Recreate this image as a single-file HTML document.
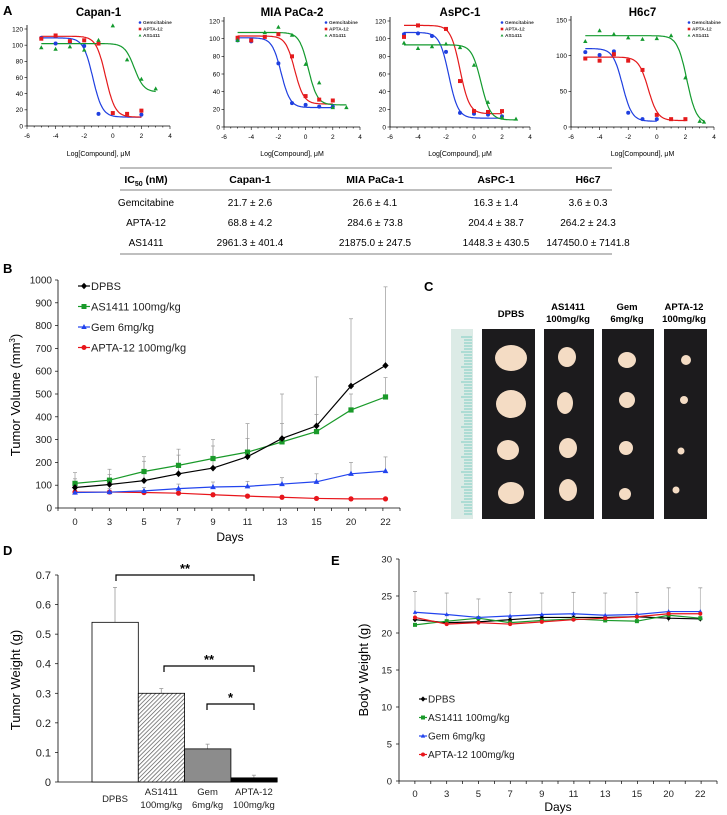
<!DOCTYPE html>
<html><head><meta charset="utf-8"><style>
body{margin:0;background:#fff;}
svg{display:block;font-family:"Liberation Sans",sans-serif;}
</style></head><body>
<svg id="fig" width="727" height="815" viewBox="0 0 727 815">
<defs>
<pattern id="hatch" width="3" height="3" patternUnits="userSpaceOnUse" patternTransform="rotate(45)">
<rect width="3" height="3" fill="#fff"/><line x1="0" y1="0" x2="0" y2="3" stroke="#555" stroke-width="1.4"/>
</pattern>
</defs>
</svg>
<script>
// ---------- Panel A data ----------
const aXticks=[-6,-4,-2,0,2,4];
const capanGem=[[-5,109],[-4,102],[-3,104],[-2,99],[-1,15],[2,14]];
const capanApta=[[-5,108],[-4,112],[-3,105],[-2,106],[-1,102],[0,16],[1,15],[2,19]];
const capanAs=[[-5,97],[-4,95],[-3,98],[-2,94],[-1,106],[0,124],[1,82],[2,58],[3,46]];
const capanFit=[[109,11,-1.4],[111,11,-0.5],[102,42,1.5]];
const miaGem=[[-5,98],[-4,97],[-2,72],[-1,27],[0,25],[1,23],[2,23]];
const miaApta=[[-5,101],[-4,98],[-3,102],[-2,105],[-1,80],[0,35],[1,31],[2,30]];
const miaAs=[[-5,98],[-3,107],[-2,113],[-1,104],[0,71],[1,50],[2,22],[3,22]];
const miaFit=[[101,22,-1.8],[103,26,-0.8],[107,25,0.2]];
const aspcGem=[[-5,105],[-4,106],[-3,103],[-2,85],[-1,16],[0,15],[1,14],[2,12]];
const aspcApta=[[-5,102],[-4,115],[-2,111],[-1,52],[0,18],[1,17],[2,18]];
const aspcAs=[[-5,95],[-4,89],[-3,91],[-2,94],[-1,90],[0,70],[1,28],[2,11],[3,9]];
const aspcFit=[[107,10,-1.8],[115,15,-1.0],[93,8,0.5]];
const h6Gem=[[-5,105],[-4,101],[-3,106],[-2,20],[-1,11],[0,11]];
const h6Apta=[[-5,96],[-4,93],[-3,102],[-2,93],[-1,80],[0,17],[1,11],[2,11]];
const h6As=[[-5,120],[-4,135],[-3,130],[-2,125],[-1,123],[0,124],[1,128],[2,69],[3,8],[3.3,7]];
const h6Fit=[[110,8,-2.4],[98,9,-0.6],[128,5,2.1]];
// ---------- Panel B data ----------
const days=['0','3','5','7','9','11','13','15','20','22'];
const bTicks=[0,100,200,300,400,500,600,700,800,900,1000];
const bDPBS=[90,103,120,150,175,225,305,360,535,625];
const bDPBSsd=[65,67,105,108,125,145,195,215,295,345];
const bAS=[108,122,160,187,217,245,290,335,430,487];
const bASsd=[20,25,45,45,55,60,80,75,70,85];
const bGem=[68,70,75,85,92,95,105,115,150,162];
const bGemsd=[15,15,15,20,22,22,28,35,50,62];
const bApta=[70,70,68,65,58,52,47,42,40,40];
const bAptasd=[8,8,8,8,8,8,8,6,5,5];
// ---------- Panel D data ----------
const dGroups=['DPBS','AS1411','Gem','APTA-12'];
const dDose=['','100mg/kg','6mg/kg','100mg/kg'];
const dMean=[0.54,0.30,0.112,0.014];
const dSd=[0.118,0.016,0.016,0.009];
const dTicks=[0,0.1,0.2,0.3,0.4,0.5,0.6,0.7];
// ---------- Panel E data ----------
const eTicks=[0,5,10,15,20,25,30];
const eDPBS=[21.8,21.4,21.5,21.8,22.1,22.1,22.1,22.2,22.0,21.9];
const eAS=[21.1,21.6,22.0,21.4,21.7,21.9,21.7,21.6,22.4,22.0];
const eGem=[22.8,22.5,22.1,22.3,22.5,22.6,22.4,22.5,22.9,22.9];
const eApta=[22.1,21.2,21.4,21.2,21.5,21.8,22.0,22.2,22.6,22.6];
const eTop=[25.6,25.4,24.6,25.5,25.4,25.5,25.4,25.5,26.1,26.1];

const svg=document.getElementById('fig');
const NS='http://www.w3.org/2000/svg';
function mk(tag,attrs,parent,name,txt){
  const e=document.createElementNS(NS,tag);
  for(const k in attrs)e.setAttribute(k,attrs[k]);
  
  
  if(txt!==undefined)e.textContent=txt;
  (parent||svg).appendChild(e);return e;
}
function lin(d0,d1,r0,r1){return v=>r0+(v-d0)*(r1-r0)/(d1-d0);}
const BLUE='#1f3fe0',RED='#e41a1c',GREEN='#139a2e';
function marker(g,type,x,y,c,s,name){
  if(type==='circle')mk('circle',{cx:x,cy:y,r:s,fill:c},g,name);
  else if(type==='square')mk('rect',{x:x-s,y:y-s,width:2*s,height:2*s,fill:c},g,name);
  else if(type==='tri')mk('polygon',{points:`${x},${y-s*1.2} ${x-s*1.1},${y+s*0.8} ${x+s*1.1},${y+s*0.8}`,fill:c},g,name);
  else if(type==='diamond')mk('polygon',{points:`${x},${y-s*1.3} ${x+s*1.2},${y} ${x},${y+s*1.3} ${x-s*1.2},${y}`,fill:c},g,name);
}
mk('text',{x:3,y:15,'font-size':13,'font-weight':'bold'},svg,'panel-a-label','A');

// ---------- Panel A ----------
const charts=[
 {title:'Capan-1',x0:27,x1:170,y0:126,yt:29,ymax:120,yt2:[0,20,40,60,80,100,120],data:[capanGem,capanApta,capanAs],fit:capanFit,lx:140},
 {title:'MIA PaCa-2',x0:224,x1:360,y0:127,yt:21,ymax:120,yt2:[0,20,40,60,80,100,120],data:[miaGem,miaApta,miaAs],fit:miaFit,lx:326},
 {title:'AsPC-1',x0:390,x1:530,y0:127,yt:21,ymax:120,yt2:[0,20,40,60,80,100,120],data:[aspcGem,aspcApta,aspcAs],fit:aspcFit,lx:502},
 {title:'H6c7',x0:571,x1:714,y0:127,yt:20,ymax:150,yt2:[0,50,100,150],data:[h6Gem,h6Apta,h6As],fit:h6Fit,lx:689}
];
const cols=[BLUE,RED,GREEN],types=['circle','square','tri'],names=['Gemcitabine','APTA-12','AS1411'];
charts.forEach((c,ci)=>{
  const g=mk('g',{},svg,'ic50-chart-'+c.title.toLowerCase().replace(/\s+/g,'-'));
  const X=lin(-6,4,c.x0,c.x1),Y=lin(0,c.ymax,c.y0,c.yt);
  mk('text',{x:(c.x0+c.x1)/2,y:16,'font-size':11.5,'font-weight':'bold','text-anchor':'middle'},g,'chart-title',c.title);
  mk('line',{x1:c.x0,y1:c.y0,x2:c.x1,y2:c.y0,stroke:'#000','stroke-width':0.8},g,'x-axis');
  mk('line',{x1:c.x0,y1:c.y0,x2:c.x0,y2:c.yt-4,stroke:'#000','stroke-width':0.8},g,'y-axis');
  for(let v=-6;v<=4;v+=0.5){mk('line',{x1:X(v),y1:c.y0,x2:X(v),y2:c.y0+(v%2===0?3:1.5),stroke:'#000','stroke-width':0.6},g,'x-tick');}
  aXticks.forEach(v=>mk('text',{x:X(v),y:c.y0+12,'font-size':6.5,'text-anchor':'middle'},g,'x-tick-label',String(v)));
  c.yt2.forEach(v=>{mk('line',{x1:c.x0-2.5,y1:Y(v),x2:c.x0,y2:Y(v),stroke:'#000','stroke-width':0.6},g,'y-tick');
    mk('text',{x:c.x0-4,y:Y(v)+2.3,'font-size':6.5,'text-anchor':'end'},g,'y-tick-label',String(v));});
  mk('text',{x:(c.x0+c.x1)/2,y:156,'font-size':7,'text-anchor':'middle'},g,'x-axis-title','Log[Compound], μM');
  c.fit.forEach((f,si)=>{
    const end=c.data[si][c.data[si].length-1][0];
    let d='';for(let v=-5;v<=end+0.001;v+=0.05){const y=f[1]+(f[0]-f[1])/(1+Math.pow(10,(v-f[2])*1.3));d+=(d?'L':'M')+X(v).toFixed(1)+','+Y(y).toFixed(1);}
    mk('path',{d:d,fill:'none',stroke:cols[si],'stroke-width':1.2},g,'fit-curve-'+names[si].toLowerCase());
  });
  c.data.forEach((s,si)=>s.forEach(p=>marker(g,types[si],X(p[0]),Y(p[1]),cols[si],2,'point-'+names[si].toLowerCase())));
  names.forEach((n,i)=>{const y=24+i*6.5;marker(g,types[i],c.lx,y-1.5,cols[i],1.3,'legend-marker');
    mk('text',{x:c.lx+3,y:y,'font-size':4.8,'font-weight':'bold',fill:'#333'},g,'legend-entry',n);});
});

// ---------- Table ----------
const tg=mk('g',{},svg,'ic50-table');
const tcx=[146,250,375,496,588];
mk('line',{x1:120,y1:168,x2:612,y2:168,stroke:'#555','stroke-width':0.8},tg,'table-top-rule');
mk('line',{x1:120,y1:190,x2:612,y2:190,stroke:'#555','stroke-width':0.8},tg,'table-header-rule');
mk('line',{x1:120,y1:254,x2:612,y2:254,stroke:'#555','stroke-width':0.8},tg,'table-bottom-rule');
const hdr=mk('text',{x:tcx[0],y:183,'font-size':10.5,'font-weight':'bold','text-anchor':'middle'},tg,'table-header-ic50');
hdr.innerHTML='IC<tspan font-size="7" dy="3">50</tspan><tspan dy="-3"> (nM)</tspan>';
['Capan-1','MIA PaCa-1','AsPC-1','H6c7'].forEach((h,i)=>mk('text',{x:tcx[i+1],y:183,'font-size':10.5,'font-weight':'bold','text-anchor':'middle'},tg,'table-header',h));
const rows=[['Gemcitabine','21.7 ± 2.6','26.6 ± 4.1','16.3 ± 1.4','3.6 ± 0.3'],['APTA-12','68.8 ± 4.2','284.6 ± 73.8','204.4 ± 38.7','264.2 ± 24.3'],['AS1411','2961.3 ± 401.4','21875.0 ± 247.5','1448.3 ± 430.5','147450.0 ± 7141.8']];
rows.forEach((r,ri)=>r.forEach((t,i)=>mk('text',{x:tcx[i],y:206+ri*20,'font-size':10,'text-anchor':'middle'},tg,'table-cell',t)));

// ---------- Panel B ----------
mk('text',{x:3,y:273,'font-size':13,'font-weight':'bold'},svg,'panel-b-label','B');
const gb=mk('g',{},svg,'tumor-volume-chart');
const BX=i=>75+i*34.5, BY=lin(0,1000,508,280);
mk('line',{x1:58,y1:508,x2:400,y2:508,stroke:'#000','stroke-width':0.8},gb,'x-axis');
mk('line',{x1:58,y1:508,x2:58,y2:280,stroke:'#000','stroke-width':0.8},gb,'y-axis');
bTicks.forEach(v=>{mk('line',{x1:55,y1:BY(v),x2:58,y2:BY(v),stroke:'#000','stroke-width':0.7},gb,'y-tick');
  mk('text',{x:52,y:BY(v)+3.5,'font-size':10,'text-anchor':'end',fill:'#222'},gb,'y-tick-label',String(v));});
for(let i=0;i<=20;i++){const x=58+i*(342/20);mk('line',{x1:x,y1:508,x2:x,y2:511,stroke:'#000','stroke-width':0.7},gb,'x-tick');}
days.forEach((d,i)=>mk('text',{x:BX(i),y:525,'font-size':9.5,'text-anchor':'middle',fill:'#222'},gb,'x-tick-label',d));
mk('text',{x:230,y:541,'font-size':12,'text-anchor':'middle'},gb,'x-axis-title','Days');
const yl=mk('text',{x:0,y:0,'font-size':13,'text-anchor':'middle',transform:'translate(20,395) rotate(-90)'},gb,'y-axis-title');
yl.innerHTML='Tumor Volume (mm<tspan font-size="8" dy="-5">3</tspan><tspan dy="5">)</tspan>';
const bSeries=[[bDPBS,bDPBSsd,'#000','diamond','DPBS'],[bAS,bASsd,'#1a9a2a','square','AS1411 100mg/kg'],[bGem,bGemsd,'#2244ee','tri','Gem 6mg/kg'],[bApta,bAptasd,'#e8151b','circle','APTA-12 100mg/kg']];
bSeries.forEach(s=>s[0].forEach((v,i)=>{const x=BX(i);mk('line',{x1:x,y1:BY(v),x2:x,y2:BY(v+s[1][i]),stroke:'#999','stroke-width':0.7},gb,'error-bar');
  mk('line',{x1:x-2,y1:BY(v+s[1][i]),x2:x+2,y2:BY(v+s[1][i]),stroke:'#999','stroke-width':0.7},gb,'error-cap');}));
bSeries.slice().reverse().forEach(s=>{
  mk('polyline',{points:s[0].map((v,i)=>BX(i)+','+BY(v)).join(' '),fill:'none',stroke:s[2],'stroke-width':1.2},gb,'line-'+s[4].split(' ')[0].toLowerCase());
  s[0].forEach((v,i)=>marker(gb,s[3],BX(i),BY(v),s[2],2.6,'point-'+s[4].split(' ')[0].toLowerCase()));
});
bSeries.forEach((s,i)=>{const y=286+i*20.5;mk('line',{x1:78,y1:y,x2:90,y2:y,stroke:s[2],'stroke-width':1.2},gb,'legend-line');
  marker(gb,s[3],84,y,s[2],2.5,'legend-marker');mk('text',{x:91,y:y+4,'font-size':11,fill:'#222'},gb,'legend-entry',s[4]);});

// ---------- Panel C ----------
mk('text',{x:424,y:291,'font-size':13,'font-weight':'bold'},svg,'panel-c-label','C');
const gc=mk('g',{},svg,'tumor-photo');
[['DPBS',''],['AS1411','100mg/kg'],['Gem','6mg/kg'],['APTA-12','100mg/kg']].forEach((h,i)=>{
  const cx=[511,568,627,684][i];
  mk('text',{x:cx,y:h[1]?310:317,'font-size':9.5,'font-weight':'bold','text-anchor':'middle'},gc,'group-header',h[0]);
  if(h[1])mk('text',{x:cx,y:322,'font-size':9.5,'font-weight':'bold','text-anchor':'middle'},gc,'group-header-dose',h[1]);
});
mk('rect',{x:451,y:329,width:22,height:190,fill:'#dcebe6'},gc,'ruler');
for(let i=0;i<60;i++){mk('line',{x1:466-(i%5===0?5:2),y1:337+i*3,x2:472,y2:337+i*3,stroke:'#3fb8a8','stroke-width':0.6},gc,'ruler-tick');}
const strips=[[482,535,[[511,358,16,13],[511,404,15,14],[508,450,11,10],[511,493,13,11]]],[544,594,[[567,357,9,10],[565,403,8,11],[568,448,9,10],[568,490,9,11]]],[602,654,[[627,360,9,8],[627,400,8,8],[626,448,7,7],[625,494,6,6]]],[664,707,[[686,360,5,5],[684,400,4,4],[681,451,3.5,3.5],[676,490,3.5,3.5]]]];
strips.forEach(s=>{mk('rect',{x:s[0],y:329,width:s[1]-s[0],height:190,fill:'#1c1b1d'},gc,'specimen-strip');
  s[2].forEach(t=>mk('ellipse',{cx:t[0],cy:t[1],rx:t[2],ry:t[3],fill:'#f4dcc4'},gc,'tumor'));});

// ---------- Panel D ----------
mk('text',{x:3,y:555,'font-size':13,'font-weight':'bold'},svg,'panel-d-label','D');
const gd=mk('g',{},svg,'tumor-weight-chart');
const DY=lin(0,0.7,782,575), DX=i=>92+i*46.3;
mk('line',{x1:58,y1:782,x2:277,y2:782,stroke:'#000','stroke-width':0.8},gd,'x-axis');
mk('line',{x1:58,y1:782,x2:58,y2:575,stroke:'#000','stroke-width':0.8},gd,'y-axis');
dTicks.forEach(v=>{mk('line',{x1:55,y1:DY(v),x2:58,y2:DY(v),stroke:'#000','stroke-width':0.7},gd,'y-tick');
  mk('text',{x:51,y:DY(v)+4,'font-size':11,'text-anchor':'end',fill:'#222'},gd,'y-tick-label',String(v));});
const dFill=['#fff','url(#hatch)','#8c8c8c','#000'];
dMean.forEach((v,i)=>{
  mk('line',{x1:DX(i)+23,y1:DY(v),x2:DX(i)+23,y2:DY(v+dSd[i]),stroke:'#999','stroke-width':0.8},gd,'error-bar');
  mk('line',{x1:DX(i)+21,y1:DY(v+dSd[i]),x2:DX(i)+25,y2:DY(v+dSd[i]),stroke:'#999','stroke-width':0.8},gd,'error-cap');
  mk('rect',{x:DX(i),y:DY(v),width:46.3,height:782-DY(v),fill:dFill[i],stroke:'#000','stroke-width':0.8},gd,'bar-'+dGroups[i].toLowerCase());
  mk('text',{x:DX(i)+23,y:dDose[i]?795:802,'font-size':9.5,'text-anchor':'middle',fill:'#222'},gd,'x-tick-label',dGroups[i]);
  if(dDose[i])mk('text',{x:DX(i)+23,y:808,'font-size':9.5,'text-anchor':'middle',fill:'#222'},gd,'x-tick-label-dose',dDose[i]);
});
[[116,575,'**'],[164,666,'**'],[207,704,'*']].forEach(b=>{
  mk('path',{d:`M${b[0]},${b[1]+6}V${b[1]}H254V${b[1]+6}`,fill:'none',stroke:'#000','stroke-width':1.2},gd,'significance-bracket');
  mk('text',{x:(b[0]+254)/2,y:b[1]-2,'font-size':13,'font-weight':'bold','text-anchor':'middle'},gd,'significance-label',b[2]);
});
const dyl=mk('text',{x:0,y:0,'font-size':13,'text-anchor':'middle',transform:'translate(20,680) rotate(-90)'},gd,'y-axis-title','Tumor Weight (g)');

// ---------- Panel E ----------
mk('text',{x:331,y:565,'font-size':13,'font-weight':'bold'},svg,'panel-e-label','E');
const ge=mk('g',{},svg,'body-weight-chart');
const EX=i=>415+i*31.7, EY=lin(0,30,781,559);
mk('line',{x1:399,y1:781,x2:717,y2:781,stroke:'#000','stroke-width':0.8},ge,'x-axis');
mk('line',{x1:399,y1:781,x2:399,y2:559,stroke:'#000','stroke-width':0.8},ge,'y-axis');
eTicks.forEach(v=>{mk('line',{x1:396,y1:EY(v),x2:399,y2:EY(v),stroke:'#000','stroke-width':0.7},ge,'y-tick');
  mk('text',{x:392,y:EY(v)+3.5,'font-size':9.5,'text-anchor':'end',fill:'#222'},ge,'y-tick-label',String(v));});
for(let i=0;i<=20;i++){const x=399+i*(318/20);mk('line',{x1:x,y1:781,x2:x,y2:784,stroke:'#000','stroke-width':0.7},ge,'x-tick');}
days.forEach((d,i)=>mk('text',{x:EX(i),y:797,'font-size':9.5,'text-anchor':'middle',fill:'#222'},ge,'x-tick-label',d));
mk('text',{x:558,y:811,'font-size':12,'text-anchor':'middle'},ge,'x-axis-title','Days');
mk('text',{x:0,y:0,'font-size':13,'text-anchor':'middle',transform:'translate(368,670) rotate(-90)'},ge,'y-axis-title','Body Weight (g)');
eTop.forEach((v,i)=>{const x=EX(i);mk('line',{x1:x,y1:EY(21.5),x2:x,y2:EY(v),stroke:'#aaa','stroke-width':0.7},ge,'error-bar');
  mk('line',{x1:x-2,y1:EY(v),x2:x+2,y2:EY(v),stroke:'#888','stroke-width':0.7},ge,'error-cap');});
const eSeries=[[eDPBS,'#000','diamond','DPBS'],[eAS,'#1a9a2a','square','AS1411 100mg/kg'],[eGem,'#2244ee','tri','Gem 6mg/kg'],[eApta,'#e8151b','circle','APTA-12 100mg/kg']];
eSeries.forEach(s=>{
  mk('polyline',{points:s[0].map((v,i)=>EX(i)+','+EY(v)).join(' '),fill:'none',stroke:s[1],'stroke-width':1.2},ge,'line-'+s[3].split(' ')[0].toLowerCase());
  s[0].forEach((v,i)=>marker(ge,s[2],EX(i),EY(v),s[1],2,'point-'+s[3].split(' ')[0].toLowerCase()));
});
eSeries.forEach((s,i)=>{const y=699+i*18.5;mk('line',{x1:419,y1:y,x2:427,y2:y,stroke:s[1],'stroke-width':1.2},ge,'legend-line');
  marker(ge,s[2],423,y,s[1],2,'legend-marker');mk('text',{x:428,y:y+3.5,'font-size':10,fill:'#222'},ge,'legend-entry',s[3]);});
</script>
</body></html>
